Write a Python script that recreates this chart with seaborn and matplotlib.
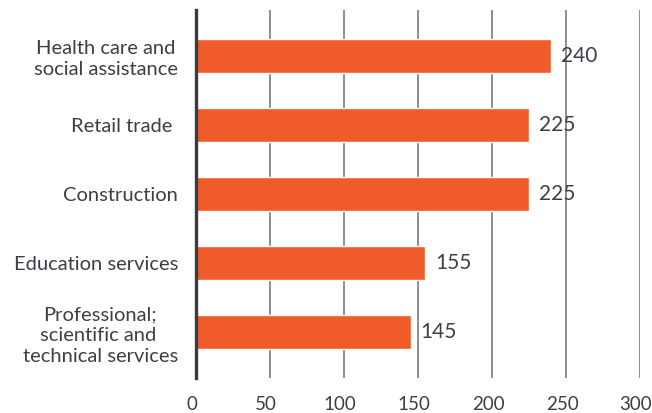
import pandas as pd
import seaborn as sns
import matplotlib.pyplot as plt
from matplotlib.transforms import ScaledTranslation

# industries and values
industries = ["Health care and\nsocial assistance", "Retail trade ", "Construction",
              "Education services", "Professional;\nscientific and \ntechnical services"]
values = [240, 225, 225, 155, 145]
xticks = [0, 50, 100, 150, 200, 250, 300]

df = pd.DataFrame({"industry": industries, "value": values})

sns.set_style("white")
plt.rcParams['font.family'] = ['Lato', 'DejaVu Sans']
text_col = "#3d3e48"

fig = plt.figure(figsize=(6.52, 4.13), dpi=100)
ax = fig.add_axes([0.3006, 0.0847, 0.681, 0.891])

sns.barplot(data=df, x="value", y="industry", color="#f15a29", saturation=1,
            width=0.49, ax=ax, zorder=3)

ax.set_xlim(0, 300)
ax.set_ylim(4.66, -0.66)
ax.set_xticks(xticks)
ax.grid(axis="x", color="#8c8c94", linewidth=1.4, zorder=1)
ax.set_axisbelow(True)
for s in ["top", "right", "bottom"]:
    ax.spines[s].set_visible(False)
ax.spines["left"].set_color("#3a3b45")
ax.spines["left"].set_linewidth(2.4)
ax.spines["left"].set_zorder(4)
ax.tick_params(axis="both", length=0, colors=text_col)
ax.tick_params(axis="x", pad=13, labelsize=13.5)
ax.tick_params(axis="y", pad=13, labelsize=14.5)
ax.set_xlabel("")
ax.set_ylabel("")
for lab in ax.get_yticklabels():
    lab.set_horizontalalignment("right")
    lab.set_multialignment("center")
    lab.set_linespacing(1.25)
# x labels sit a little left of their gridlines in the original
shift = ScaledTranslation(-4 / 100, 0, fig.dpi_scale_trans)
for lab in ax.get_xticklabels():
    lab.set_transform(lab.get_transform() + shift)

# value labels next to each bar
for i, v in enumerate(values):
    ax.text(v + 6.5, i, str(v), va="center", ha="left", fontsize=15, color=text_col, zorder=5)

fig.savefig("out.png", dpi=100)
